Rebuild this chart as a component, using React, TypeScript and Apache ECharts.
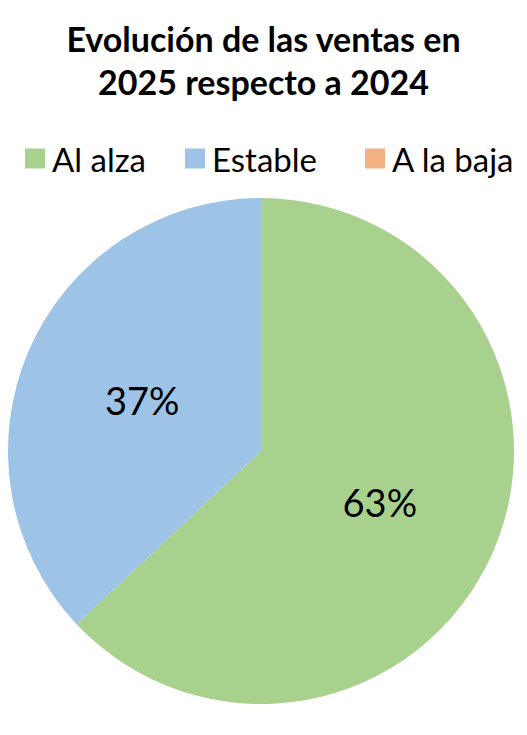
import { useEffect, useRef } from 'react';
import * as echarts from 'echarts';

const categories = ['Al alza', 'Estable', 'A la baja'];
const shares = [63, 37, 0];
const colors = ['#A9D18E', '#9DC3E6', '#F4B183'];
const titleLines = ['Evolución de las ventas en', '2025 respecto a 2024'];
const legendLefts = [20, 180, 360];

export default function App() {
  const chartRef = useRef<HTMLDivElement>(null);

  useEffect(() => {
    document.body.style.margin = '0';
    if (!chartRef.current) return;
    const chart = echarts.init(chartRef.current, null, { renderer: 'svg' });
    chart.setOption({
      animation: false,
      backgroundColor: '#fff',
      color: colors,
      title: {
        text: titleLines.join('\n'),
        left: 'center',
        top: 12,
        textStyle: {
          fontFamily: 'Lato',
          fontWeight: 'bold',
          fontSize: 34,
          lineHeight: 43,
          color: '#000',
        },
      },
      legend: categories.map((name, i) => ({
        data: [name],
        left: legendLefts[i],
        top: 137,
        itemWidth: 20,
        itemHeight: 20,
        icon: 'rect',
        textStyle: { fontFamily: 'Lato', fontSize: 33, color: '#000', padding: [0, 0, 0, 2] },
      })),
      series: [
        {
          type: 'pie',
          center: [261, 451],
          radius: 253,
          startAngle: 90,
          clockwise: true,
          label: {
            show: true,
            position: 'inside',
            formatter: (p: any) => (p.value > 0 ? p.value + '%' : ''),
            fontFamily: 'Lato',
            fontSize: 38,
            color: '#000',
          },
          labelLine: { show: false },
          emphasis: { disabled: true },
          itemStyle: { borderWidth: 0 },
          data: categories.map((name, i) => ({ name, value: shares[i] })),
        },
      ],
    });
    return () => chart.dispose();
  }, []);

  return <div ref={chartRef} style={{ width: 527, height: 735 }} />;
}
